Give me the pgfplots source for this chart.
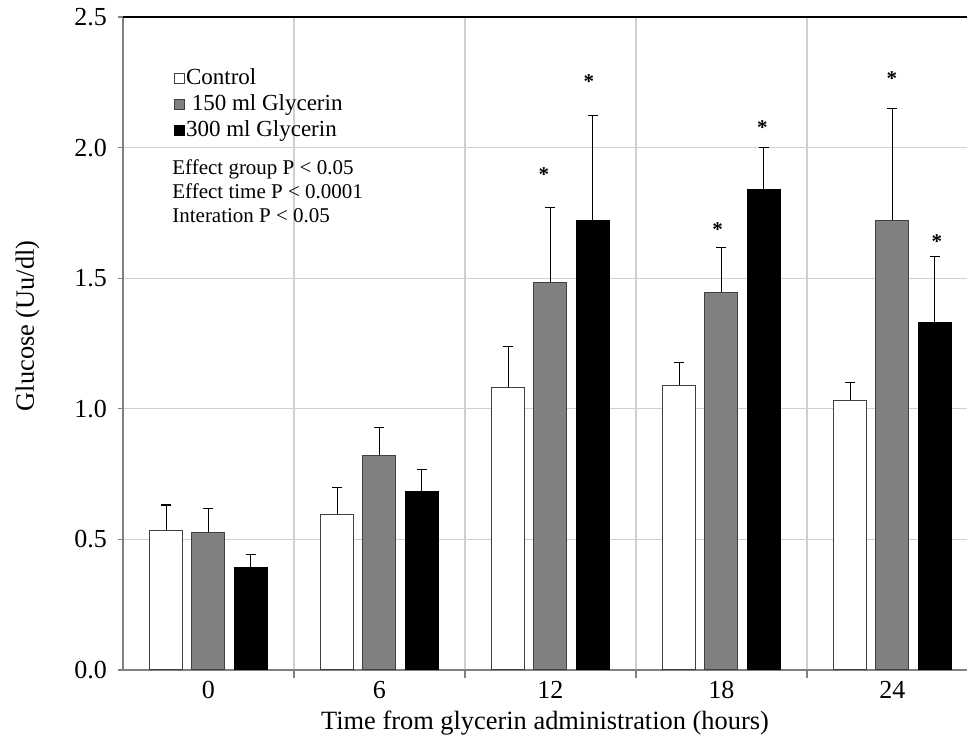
\documentclass[border=0pt]{standalone}
\usepackage{fontspec}
\setmainfont{Liberation Serif}
\usepackage{pgfplots}
\pgfplotsset{compat=1.18}
\definecolor{gridgray}{RGB}{208,208,208}
\definecolor{spinegray}{RGB}{128,128,128}
\definecolor{midgray}{RGB}{128,128,128}

\begin{document}
\begin{tikzpicture}
\begin{axis}[
    name=ax,
    scale only axis,
    width=422pt, height=326.5pt,
    xmin=-0.5, xmax=4.436,
    ymin=0, ymax=2.5,
    ybar,
    bar width=0.193,
    axis x line=bottom, axis y line=left,
    axis line style={-, spinegray, line width=1pt},
    xtick={0,1,2,3,4},
    xticklabels={0,6,12,18,24},
    minor xtick={0.5,1.5,2.5,3.5},
    major x tick style={draw=none},
    minor x tick style={spinegray, line width=0.6pt},
    minor tick length=4pt,
    xminorgrids=true,
    ytick={0,0.5,1,1.5,2,2.5},
    major y tick style={spinegray, line width=0.6pt},
    major tick length=2.5pt,
    tick align=outside,
    ymajorgrids=true,
    grid style={gridgray, line width=0.6pt},
    minor grid style={gridgray, line width=0.6pt},
    /pgf/number format/assume math mode=true,
    ticklabel style={font=\fontsize{13}{15}\selectfont},
    xticklabel style={yshift=0.5pt},
    yticklabel style={xshift=-2pt, /pgf/number format/fixed,
        /pgf/number format/fixed zerofill, /pgf/number format/precision=1},
    xlabel={Time from glycerin administration (hours)},
    ylabel={Glucose (Uu/dl)},
    label style={font=\fontsize{13.2}{15}\selectfont},
    xlabel style={at={(axis description cs:0.5,-0.0904)}, anchor=base, inner sep=0pt},
    ylabel style={at={(axis description cs:-0.113,0.527)}, anchor=center},
    legend style={at={(axis description cs:0.06,0.924)}, anchor=north west,
        draw=none, fill=none, font=\fontsize{11.5}{12}\selectfont,
        row sep=1.5pt, inner sep=0pt,
        nodes={inner sep=0.5pt, text height=8pt, text depth=2.5pt}},
    legend cell align=left,
    legend image code/.code={\draw[#1, line width=0.5pt] (0pt,-2.5pt) rectangle (5pt,2.5pt);},
    error bars/y dir=plus,
    error bars/y explicit,
    error bars/error bar style={black, line width=0.6pt},
    error bars/error mark options={black, rotate=90, mark size=2.5pt, line width=0.6pt},
]
\addplot[fill=white, draw=black!75, line width=0.5pt, bar shift=-0.246]
  coordinates {(0,0.535) +- (0,0.097) (1,0.597) +- (0,0.103) (2,1.082) +- (0,0.158)
               (3,1.090) +- (0,0.088) (4,1.032) +- (0,0.070)};
\addlegendentry{Control}
\addplot[fill=midgray, draw=black!75, line width=0.5pt, bar shift=0]
  coordinates {(0,0.527) +- (0,0.092) (1,0.823) +- (0,0.106) (2,1.484) +- (0,0.287)
               (3,1.446) +- (0,0.173) (4,1.722) +- (0,0.428)};
\addlegendentry{\ 150 ml Glycerin}
\addplot[fill=black, draw=black, line width=0.5pt, bar shift=0.246]
  coordinates {(0,0.393) +- (0,0.050) (1,0.685) +- (0,0.083) (2,1.722) +- (0,0.400)
               (3,1.838) +- (0,0.162) (4,1.331) +- (0,0.251)};
\addlegendentry{300 ml Glycerin}
\addplot[forget plot, only marks, mark=none, draw=none,
    error bars/y dir=none,
    nodes near coords={*},
    every node near coord/.style={anchor=center, inner sep=0pt,
        font=\bfseries\fontsize{10.5}{10}\selectfont}]
  coordinates {(1.962,1.895) (2.225,2.252) (2.978,1.687) (3.239,2.078)
               (3.997,2.266) (4.26,1.64)};
\draw[black, line width=0.6pt] (rel axis cs:0,1) -- (rel axis cs:1,1);
\node[anchor=north west, align=left, inner sep=0pt,
      font=\fontsize{10.5}{12}\selectfont]
  at (rel axis cs:0.058,0.782)
  {Effect group P < 0.05\\Effect time P < 0.0001\\Interation P < 0.05};
\end{axis}
\path (ax.south west) ++(-61.5pt,-34.5pt);
\path (ax.north east) ++(0.5pt,8.5pt);
\end{tikzpicture}
\end{document}
